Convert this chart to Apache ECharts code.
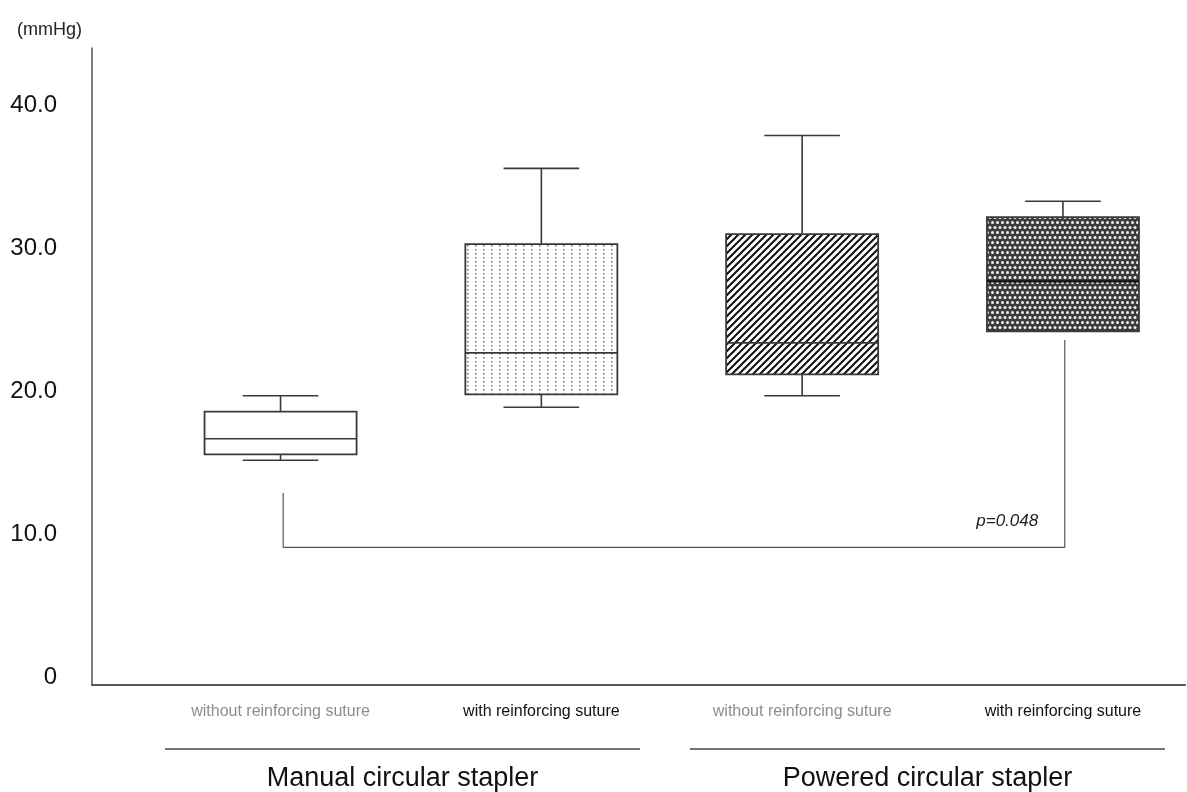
<!DOCTYPE html>
<html>
<head>
<meta charset="utf-8">
<script src="https://cdn.jsdelivr.net/npm/echarts@6/dist/echarts.min.js"></script>
<style>html,body{margin:0;padding:0;background:#fff;}#chart{width:1187px;height:792px;}</style>
</head>
<body>
<div id="chart"></div>
<script>
// ---- data ----
const categories = ['without reinforcing suture', 'with reinforcing suture', 'without reinforcing suture', 'with reinforcing suture'];
const categoryTone = ['gray', 'black', 'gray', 'black'];
const groups = ['Manual circular stapler', 'Powered circular stapler'];
const groupStart = [0.557, 2.570];
const groupEnd = [2.378, 4.391];
const whiskerLow = [15.2, 18.9, 19.7, 24.2];
const q1 = [15.6, 19.8, 21.2, 24.2];
const median = [16.7, 22.7, 23.4, 27.7];
const q3 = [18.6, 30.3, 31.0, 32.2];
const whiskerHigh = [19.7, 35.6, 37.9, 33.3];
const patterns = ['none', 'dots', 'hatch', 'cross'];
const yTicks = [0, 10, 20, 30, 40];
const bracketX = [1.01, 4.007];
const bracketTop = [12.9, 23.6];
const bracketBase = 9.1;
const pLabel = 'p=0.048';
const pLabelPos = [3.905, 10.9];

// ---- patterns ----
function makeTile(w, h, draw) {
  const c = document.createElement('canvas');
  c.width = w; c.height = h;
  const ctx = c.getContext('2d');
  draw(ctx, w, h);
  return c;
}
const dotTile = makeTile(8, 4, (ctx) => {
  ctx.fillStyle = '#fff'; ctx.fillRect(0, 0, 8, 4);
  ctx.fillStyle = '#6e6e6e'; ctx.fillRect(3, 1, 1.5, 1.5);
});
const hatchTile = makeTile(7, 7, (ctx, w, h) => {
  ctx.fillStyle = '#fff'; ctx.fillRect(0, 0, w, h);
  ctx.strokeStyle = '#111'; ctx.lineWidth = 2.0;
  ctx.beginPath();
  ctx.moveTo(-1, h + 1); ctx.lineTo(w + 1, -1);
  ctx.moveTo(-1, 1); ctx.lineTo(1, -1);
  ctx.moveTo(w - 1, h + 1); ctx.lineTo(w + 1, h - 1);
  ctx.stroke();
});
const crossTile = makeTile(10, 10, (ctx) => {
  ctx.fillStyle = '#3c3c3c'; ctx.fillRect(0, 0, 10, 10);
  ctx.fillStyle = '#f0f0f0';
  [[2.5, 2.5], [7.5, 2.5], [0, 7.5], [5, 7.5], [10, 7.5]].forEach(p => {
    ctx.beginPath(); ctx.arc(p[0], p[1], 1.5, 0, Math.PI * 2); ctx.fill();
  });
});
const fills = {
  none: '#fff',
  dots: { image: dotTile, repeat: 'repeat' },
  hatch: { image: hatchTile, repeat: 'repeat' },
  cross: { image: crossTile, repeat: 'repeat' }
};

const FONT = '"Liberation Sans", Arial, Helvetica, sans-serif';
const yMin = -0.52, yMax = 44.02;
const xMin = 0.277, xMax = 4.468;
const boxW = 0.583, capW = 0.29;

const boxData = categories.map((c, i) => [i + 1, whiskerLow[i], q1[i], median[i], q3[i], whiskerHigh[i], i]);

const chart = echarts.init(document.getElementById('chart'), null, { renderer: 'canvas' });
const lineStroke = '#3a3a3a';

chart.setOption({
  animation: false,
  backgroundColor: '#fff',
  title: {
    text: '(mmHg)', left: 12, top: 16,
    textStyle: { fontFamily: FONT, fontSize: 18, fontWeight: 'normal', color: '#222' }
  },
  grid: { left: 92, right: 2, top: 48, bottom: 107 },
  xAxis: {
    type: 'value', min: xMin, max: xMax,
    axisLine: { show: true, onZero: false, lineStyle: { color: '#555', width: 2 } },
    axisTick: { show: false },
    splitLine: { show: false },
    axisLabel: {
      customValues: [1, 2, 3, 4],
      margin: 19,
      fontFamily: FONT,
      formatter: (v) => {
        const i = Math.round(v) - 1;
        return categoryTone[i] === 'gray' ? '{g|' + categories[i] + '}' : '{b|' + categories[i] + '}';
      },
      rich: {
        g: { color: '#8c8c8c', fontSize: 16, fontFamily: FONT },
        b: { color: '#111', fontSize: 16, fontFamily: FONT }
      }
    }
  },
  yAxis: {
    type: 'value', min: yMin, max: yMax,
    axisLine: { show: true, onZero: false, lineStyle: { color: '#555', width: 1.5 } },
    axisTick: { show: false },
    splitLine: { show: false },
    axisLabel: {
      customValues: yTicks,
      margin: 35,
      fontSize: 24, color: '#111', fontFamily: FONT,
      formatter: (v) => v === 0 ? '0' : v.toFixed(1)
    }
  },
  series: [
    {
      type: 'custom',
      name: 'boxes',
      data: boxData,
      encode: { x: 0, y: [1, 2, 3, 4, 5] },
      renderItem: (params, api) => {
        const x = api.value(0);
        const lo = api.coord([x, api.value(1)]);
        const b1 = api.coord([x, api.value(2)]);
        const md = api.coord([x, api.value(3)]);
        const b3 = api.coord([x, api.value(4)]);
        const hi = api.coord([x, api.value(5)]);
        const idx = api.value(6);
        const halfW = api.size([boxW, 0])[0] / 2;
        const halfC = api.size([capW, 0])[0] / 2;
        const cx = lo[0];
        const st = { stroke: lineStroke, lineWidth: 1.6 };
        const children = [];
        children.push({ type: 'line', shape: { x1: cx, y1: b3[1], x2: cx, y2: hi[1] }, style: st });
        children.push({ type: 'line', shape: { x1: cx - halfC, y1: hi[1], x2: cx + halfC, y2: hi[1] }, style: st });
        if (api.value(1) < api.value(2)) {
          children.push({ type: 'line', shape: { x1: cx, y1: b1[1], x2: cx, y2: lo[1] }, style: st });
          children.push({ type: 'line', shape: { x1: cx - halfC, y1: lo[1], x2: cx + halfC, y2: lo[1] }, style: st });
        }
        children.push({
          type: 'rect',
          shape: { x: cx - halfW, y: b3[1], width: halfW * 2, height: b1[1] - b3[1] },
          style: { fill: fills[patterns[idx]], stroke: lineStroke, lineWidth: 1.8 }
        });
        children.push({
          type: 'line',
          shape: { x1: cx - halfW, y1: md[1], x2: cx + halfW, y2: md[1] },
          style: { stroke: patterns[idx] === 'cross' ? '#111' : lineStroke, lineWidth: patterns[idx] === 'cross' ? 2.2 : 1.6 }
        });
        return { type: 'group', children };
      },
      z: 3
    },
    {
      type: 'line',
      name: 'bracket',
      data: [[bracketX[0], bracketTop[0]], [bracketX[0], bracketBase], [bracketX[1], bracketBase], [bracketX[1], bracketTop[1]]],
      symbol: 'none',
      lineStyle: { color: '#555', width: 1.2 },
      z: 2
    },
    {
      type: 'custom',
      name: 'pvalue',
      data: [[pLabelPos[0], pLabelPos[1]]],
      renderItem: (params, api) => {
        const p = api.coord([api.value(0), api.value(1)]);
        return {
          type: 'text',
          x: p[0], y: p[1],
          style: { text: pLabel, align: 'right', verticalAlign: 'middle', fontSize: 17, fontStyle: 'italic', fontFamily: FONT, fill: '#222' }
        };
      }
    },
    {
      type: 'custom',
      name: 'groups',
      clip: false,
      data: groups.map((g, i) => [groupStart[i], groupEnd[i], i]),
      renderItem: (params, api) => {
        const a = api.coord([api.value(0), yMin]);
        const b = api.coord([api.value(1), yMin]);
        const i = api.value(2);
        return {
          type: 'group',
          children: [
            { type: 'line', shape: { x1: a[0], y1: a[1] + 64, x2: b[0], y2: b[1] + 64 }, style: { stroke: '#444', lineWidth: 1.3 } },
            { type: 'text', x: (a[0] + b[0]) / 2, y: a[1] + 94, style: { text: groups[i], align: 'center', verticalAlign: 'middle', fontSize: 27, fontFamily: FONT, fill: '#111' } }
          ]
        };
      }
    }
  ]
});
</script>
</body>
</html>
